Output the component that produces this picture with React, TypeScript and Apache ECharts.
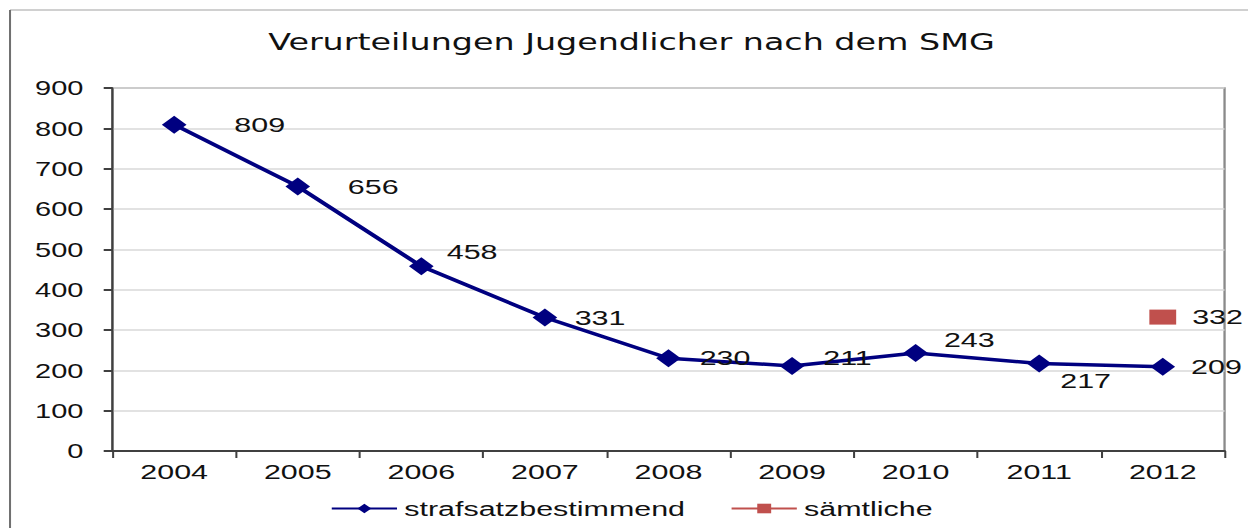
import React, { useEffect, useRef } from "react";
import * as echarts from "echarts";

const years = ["2004", "2005", "2006", "2007", "2008", "2009", "2010", "2011", "2012"];
const strafsatz = [809, 656, 458, 331, 230, 211, 243, 217, 209];
const saemtliche = [null, null, null, null, null, null, null, null, 332];
const strafsatzLabelOffsets = [[30, 0], [23, 0], [6, -14], [9, 0], [10, 0], [10, -8], [8, -13], [3, 17], [8, 0]];
const saemtlicheLabelOffsets = [[0, 0], [0, 0], [0, 0], [0, 0], [0, 0], [0, 0], [0, 0], [0, 0], [8, 0]];
const yTicks = { min: 0, max: 900, interval: 100 };

const FONT = "Liberation Sans, Arial, sans-serif";
const STRETCH = 1.45;
const W = 860;
const H = 520;
const TEXT = "#111111";

export default function App() {
  const ref = useRef<HTMLDivElement>(null);
  useEffect(() => {
    if (!ref.current) return;
    const chart = echarts.init(ref.current, undefined, { renderer: "svg" });
    const labelBase = { show: true, position: "right", distance: 3, color: TEXT, fontFamily: FONT, fontSize: 21 };
    chart.setOption({
      animation: false,
      backgroundColor: "#ffffff",
      title: {
        text: "Verurteilungen Jugendlicher nach dem SMG",
        left: "center",
        top: 17,
        textStyle: { fontFamily: "DejaVu Sans", fontSize: 23, fontWeight: "normal", color: TEXT },
      },
      graphic: [
        { type: "line", shape: { x1: 1.4, y1: 2, x2: 859, y2: 2 }, style: { stroke: "#d0d0d0", lineWidth: 2 } },
        { type: "line", shape: { x1: 1.4, y1: 2, x2: 1.4, y2: H }, style: { stroke: "#707070", lineWidth: 1.4 } },
        { type: "line", shape: { x1: 859, y1: 2, x2: 859, y2: H }, style: { stroke: "#404040", lineWidth: 1.4 } },
      ],
      grid: { left: 72, right: 21, top: 80, bottom: 77, show: true, borderColor: "#8a8a8a", borderWidth: 1.6 },
      legend: {
        bottom: 4,
        left: "center",
        itemGap: 31,
        itemWidth: 45,
        itemHeight: 12,
        textStyle: { fontFamily: FONT, fontSize: 21, color: TEXT },
        data: ["strafsatzbestimmend", "sämtliche"],
      },
      xAxis: {
        type: "category",
        data: years,
        boundaryGap: true,
        axisLine: { lineStyle: { color: "#404040", width: 2 } },
        axisTick: { show: true, interval: 0, length: 7, lineStyle: { color: "#404040", width: 1.4 } },
        axisLabel: { fontFamily: FONT, fontSize: 21, color: TEXT, margin: 10 },
      },
      yAxis: {
        type: "value",
        min: yTicks.min,
        max: yTicks.max,
        interval: yTicks.interval,
        axisLine: { show: true, lineStyle: { color: "#404040", width: 1.5 } },
        axisTick: { show: true, length: 6, lineStyle: { color: "#404040", width: 2 } },
        axisLabel: { fontFamily: FONT, fontSize: 20, color: TEXT, margin: 20 },
        splitLine: { lineStyle: { color: "#d9d9d9", width: 1.5 } },
      },
      series: [
        {
          name: "strafsatzbestimmend",
          type: "line",
          data: strafsatz.map((v, i) => ({ value: v, label: { offset: strafsatzLabelOffsets[i] } })),
          symbol: "diamond",
          symbolSize: [17, 18],
          itemStyle: { color: "#000080" },
          lineStyle: { color: "#000080", width: 3.5 },
          label: labelBase,
          z: 3,
        },
        {
          name: "sämtliche",
          type: "line",
          data: saemtliche.map((v, i) => ({ value: v, label: { offset: saemtlicheLabelOffsets[i] } })),
          symbol: "rect",
          symbolSize: [18.5, 15],
          itemStyle: { color: "#C0504D" },
          lineStyle: { color: "#C0504D", width: 3.5 },
          label: labelBase,
          z: 3,
        },
      ],
    });
    return () => chart.dispose();
  }, []);
  return (
    <div
      ref={ref}
      style={{ width: W, height: H, transform: `scaleX(${STRETCH})`, transformOrigin: "0 0" }}
    />
  );
}
